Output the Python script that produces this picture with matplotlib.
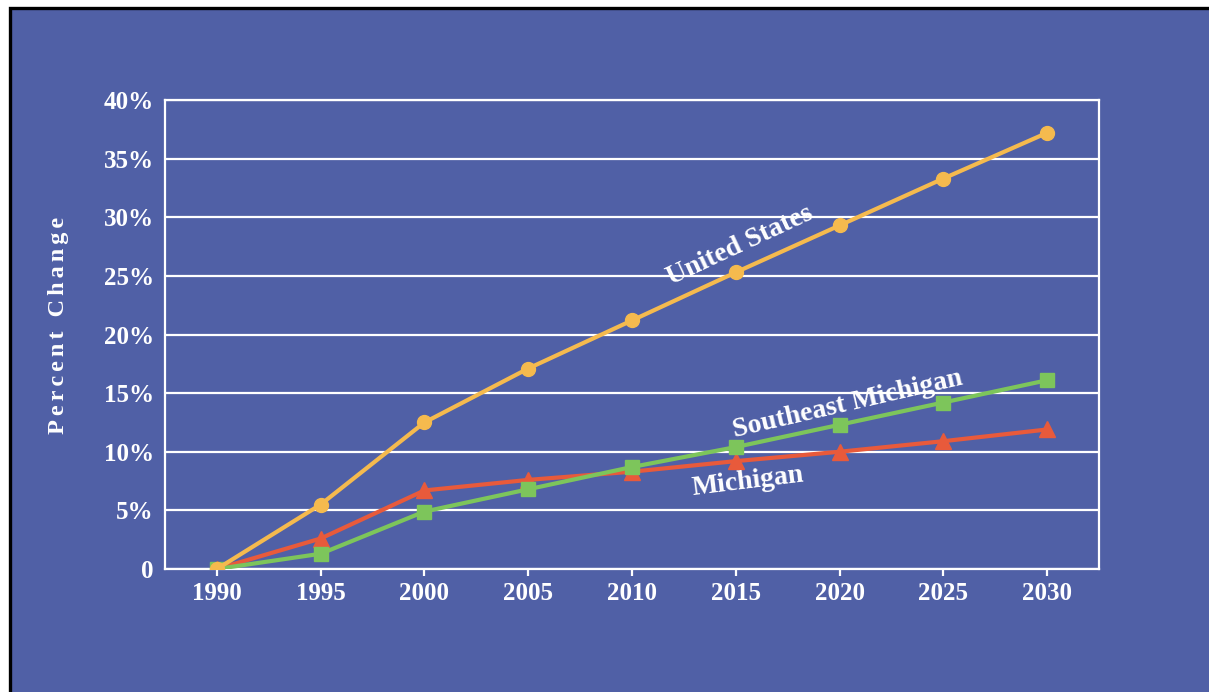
import matplotlib.pyplot as plt
from matplotlib.patches import Rectangle

years = [1990, 1995, 2000, 2005, 2010, 2015, 2020, 2025, 2030]
united_states = [0, 5.5, 12.5, 17.1, 21.2, 25.3, 29.3, 33.3, 37.2]
southeast_michigan = [0, 1.3, 4.9, 6.8, 8.7, 10.4, 12.3, 14.2, 16.1]
michigan = [0, 2.6, 6.7, 7.6, 8.3, 9.2, 10.0, 10.9, 11.9]
y_ticks = [0, 5, 10, 15, 20, 25, 30, 35, 40]
y_labels = ['0', '5%', '10%', '15%', '20%', '25%', '30%', '35%', '40%']

bg = '#5060a6'
orange = '#f5ba4e'
green = '#7dc55b'
red = '#e85a3b'
font = {'family': 'Liberation Serif', 'weight': 'bold', 'color': 'white'}

fig = plt.figure(figsize=(12.09, 6.92), dpi=100, facecolor='white')
# slide panel with black frame on the top and left edges
fig.patches.append(Rectangle((9.5 / 1209, -0.05), 1.1, 1.05 - 7.5 / 692,
                             transform=fig.transFigure, facecolor=bg,
                             edgecolor='black', linewidth=2.4, zorder=-10))

ax = fig.add_axes([165 / 1209, 1 - 569 / 692, 934 / 1209, 469 / 692])
ax.set_facecolor(bg)

ax.plot(years, michigan, color=red, lw=3, marker='^', ms=11, zorder=3)
ax.plot(years, southeast_michigan, color=green, lw=3, marker='s', ms=10, zorder=4)
ax.plot(years, united_states, color=orange, lw=3, marker='o', ms=10, zorder=5)

ax.set_xlim(1987.5, 2032.5)
ax.set_ylim(0, 40)
ax.set_xticks(years)
ax.set_xticklabels([str(y) for y in years], fontdict=font, fontsize=18)
ax.set_yticks(y_ticks)
ax.set_yticklabels(y_labels, fontdict=font, fontsize=18)
ax.tick_params(axis='x', colors='white', length=5, width=1.6, pad=4)
ax.tick_params(axis='y', length=0, pad=8)
ax.yaxis.grid(True, color='white', lw=1.6)
ax.set_axisbelow(True)
for s in ax.spines.values():
    s.set_color('white')
    s.set_linewidth(1.6)

# letter-spaced axis title
ylabel = '\u2006 \u2006'.join('\u2006'.join(w) for w in ['Percent', 'Change'])
ax.set_ylabel(ylabel, fontdict=font, fontsize=17.5)
ax.yaxis.set_label_coords(-0.103, 0.52)

ax.text(2015.2, 27.6, 'United States', fontdict=font, fontsize=20,
        rotation=25, ha='center', va='center', rotation_mode='anchor')
ax.text(2020.4, 14.0, 'Southeast Michigan', fontdict=font, fontsize=20,
        rotation=13, ha='center', va='center', rotation_mode='anchor')
ax.text(2015.6, 7.4, 'Michigan', fontdict=font, fontsize=20,
        rotation=7, ha='center', va='center', rotation_mode='anchor')

fig.savefig('out.png', dpi=100, facecolor=fig.get_facecolor())
